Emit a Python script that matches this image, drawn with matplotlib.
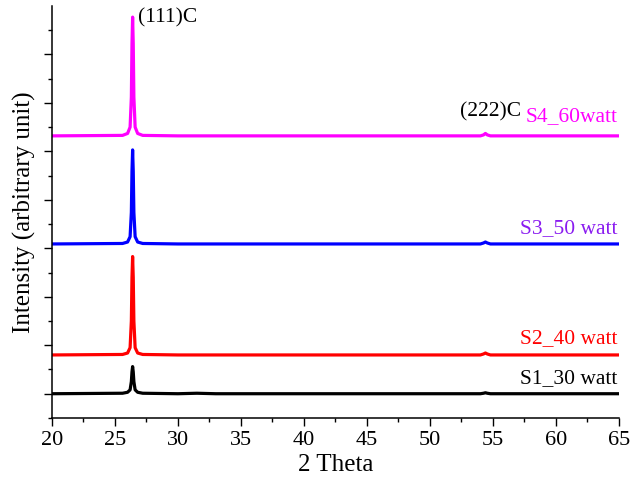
import numpy as np
import matplotlib.pyplot as plt

plt.rcParams['font.family'] = ['Liberation Serif', 'DejaVu Serif']

# 2 theta sample points
two_theta = [20, 25.6, 26.0, 26.2, 26.3, 26.35, 26.4, 26.45, 26.5, 26.6, 26.8, 27.2,
             30, 31.5, 33, 40, 54.0, 54.25, 54.4, 54.55, 54.8, 65]

# intensities above each baseline (arbitrary unit)
s1 = [0, 0.01, 0.03, 0.08, 0.25, 0.45, 0.56, 0.45, 0.25, 0.08, 0.03, 0.01,
      0, 0.01, 0, 0, 0, 0.01, 0.02, 0.01, 0, 0]
s2 = [0, 0.01, 0.04, 0.15, 0.7, 1.6, 2.03, 1.6, 0.7, 0.15, 0.04, 0.01,
      0, 0, 0, 0, 0, 0.02, 0.04, 0.02, 0, 0]
s3 = [0, 0.01, 0.04, 0.15, 0.65, 1.5, 1.94, 1.5, 0.65, 0.15, 0.04, 0.01,
      0, 0, 0, 0, 0, 0.02, 0.04, 0.02, 0, 0]
s4 = [0, 0.01, 0.05, 0.18, 0.8, 1.9, 2.45, 1.9, 0.8, 0.18, 0.05, 0.01,
      0, 0, 0, 0, 0, 0.02, 0.05, 0.02, 0, 0]

offsets = [0, 0.8, 3.09, 5.32]
names = ["S1_30 watt", "S2_40 watt", "S3_50 watt", "S4_60watt"]
colors = ["black", "red", "blue", "#ff00ff"]
label_colors = ["black", "red", "#8a1cf0", "#ff00ff"]
label_y = [0.31, 1.13, 3.40, 5.71]

fig = plt.figure(figsize=(6.3, 4.86), dpi=100)
ax = fig.add_axes([0.0825, 0.14, 0.9, 0.8477])

for vals, off, c in zip([s1, s2, s3, s4], offsets, colors):
    ax.plot(two_theta, np.array(vals) + off, color=c, lw=2.3, solid_joinstyle='round')

for name, c, yy in zip(names, label_colors, label_y):
    ax.text(64.9, yy, name, color=c, fontsize=15.5, ha='right', va='center')

ax.text(26.8, 7.75, "(111)C", fontsize=15.5, ha='left', va='center')
ax.text(52.4, 5.81, "(222)C", fontsize=15.5, ha='left', va='center')

ax.set_xlim(20, 65)
ax.set_ylim(-0.5, 8.0)
ax.set_xticks(np.arange(20, 66, 5))
ax.set_xticks(np.arange(22.5, 65, 5), minor=True)
ax.set_yticks(np.arange(0, 8, 1))
ax.set_yticks(np.arange(-0.5, 8, 1), minor=True)
ax.set_yticklabels([])
ax.tick_params(which='major', direction='out', length=6, width=1, labelsize=16)
ax.tick_params(which='minor', direction='out', length=3, width=1)

for s in ['top', 'right']:
    ax.spines[s].set_visible(False)
for s in ['left', 'bottom']:
    ax.spines[s].set_linewidth(1.1)

ax.set_xlabel("2 Theta", fontsize=18, labelpad=3)
ax.set_ylabel("Intensity (arbitrary unit)", fontsize=18, labelpad=2)

fig.savefig("out.png", dpi=100)
